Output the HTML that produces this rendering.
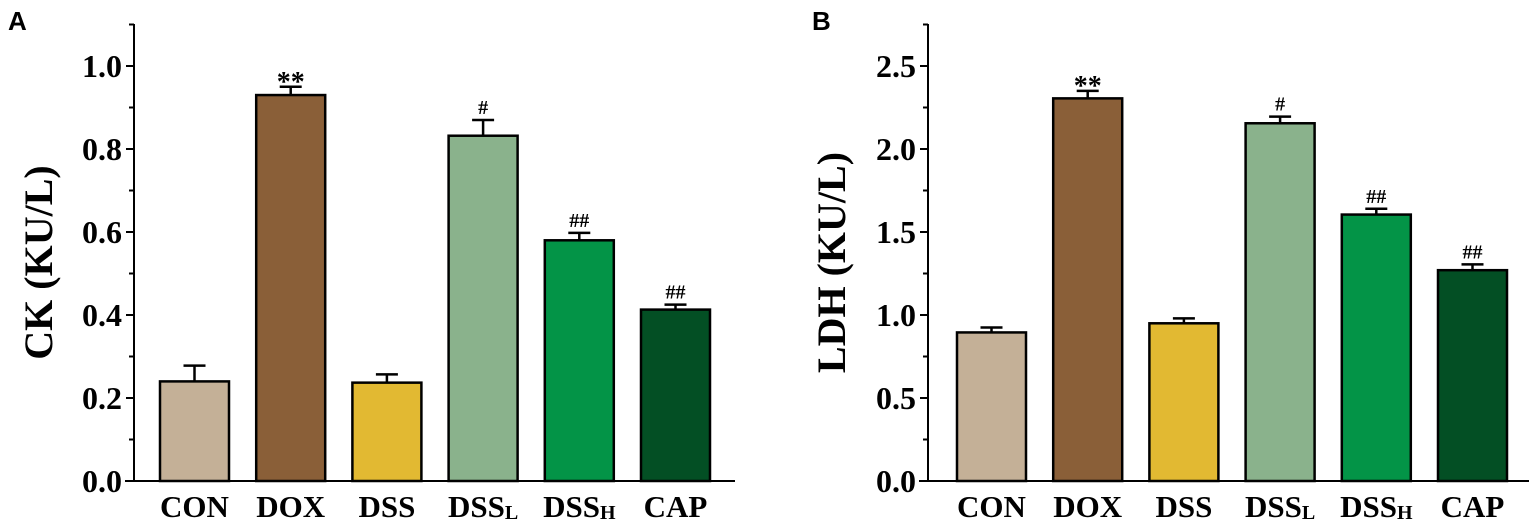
<!DOCTYPE html>
<html><head><meta charset="utf-8"><style>
html,body{margin:0;padding:0;background:#fff;width:1535px;height:524px;overflow:hidden}
</style></head><body>
<svg id="svg" width="1535" height="524" xmlns="http://www.w3.org/2000/svg" font-family="'Liberation Serif', serif" font-weight="bold"></svg>
<script>
const categories=["CON","DOX","DSS","DSSL","DSSH","CAP"];
const colors=["#c4b097","#8a5f38","#e2b932","#8ab28c","#039447","#034f24"];
const ckValues=[0.240,0.930,0.237,0.832,0.580,0.413];
const ckErrors=[0.038,0.020,0.020,0.038,0.018,0.012];
const ckMarks=["","**","","#","##","##"];
const ckTicks=[0.0,0.2,0.4,0.6,0.8,1.0];
const ldhValues=[0.895,2.305,0.950,2.155,1.605,1.270];
const ldhErrors=[0.030,0.045,0.030,0.040,0.035,0.035];
const ldhMarks=["","**","","#","##","##"];
const ldhTicks=[0.0,0.5,1.0,1.5,2.0,2.5];
const NS="http://www.w3.org/2000/svg";
const svg=document.getElementById('svg');
const SERIF="Liberation Serif, serif";
function mk(tag,attrs,parent){const e=document.createElementNS(NS,tag);for(const k in attrs)e.setAttribute(k,attrs[k]);(parent||svg).appendChild(e);return e;}
function panel(o){
  const g=mk('g',{});
  
  
  const base=481, top=24, ax=o.ax, pxPer=415/o.ymaxTick;
  const y=v=>base-v*pxPer;
  const x=i=>o.x0+i*96.2;
  const ya=mk('line',{x1:ax,y1:top,x2:ax,y2:base,stroke:'#000','stroke-width':2},g);
  
  
  const xa=mk('line',{x1:ax-9,y1:base,x2:ax+601,y2:base,stroke:'#000','stroke-width':2},g);
  
  
  const ts=o.ticks;
  for(let i=0;i<ts.length;i++){
    mk('line',{x1:ax-8,y1:y(ts[i]),x2:ax,y2:y(ts[i]),stroke:'#000','stroke-width':2},g);
    if(i<ts.length-1){const m=(ts[i]+ts[i+1])/2;mk('line',{x1:ax-5,y1:y(m),x2:ax,y2:y(m),stroke:'#000','stroke-width':2},g);}
    const t=mk('text',{x:ax-12,y:y(ts[i])+11,'text-anchor':'end','font-size':32,'font-family':SERIF,'font-weight':'bold'},g);
    t.textContent=ts[i].toFixed(1);
    
    
  }
  const mt=ts[ts.length-1]+(ts[1]-ts[0])/2;
  mk('line',{x1:ax-5,y1:y(mt),x2:ax,y2:y(mt),stroke:'#000','stroke-width':2},g);
  const yt=mk('text',{x:0,y:0,'text-anchor':'middle','font-size':40,'font-family':SERIF,'font-weight':'bold',transform:`translate(${o.titleX},${(top+base)/2+10}) rotate(-90)`},g);
  yt.textContent=o.title;
  
  
  const pl=mk('text',{x:o.labelX,y:30,'font-size':26,'font-family':'Liberation Sans, sans-serif','font-weight':'bold'},g);
  pl.textContent=o.letter;
  
  
  for(let i=0;i<categories.length;i++){
    const cx=x(i),w=69,v=o.values[i],e=o.errors[i];
    const eb=mk('path',{d:`M${cx},${y(v)} V${y(v+e)} M${cx-11},${y(v+e)} H${cx+11}`,stroke:'#000','stroke-width':2.5,fill:'none'},g);
    
    
    const r=mk('rect',{x:cx-w/2,y:y(v),width:w,height:base-y(v),fill:colors[i],stroke:'#000','stroke-width':2.5},g);
    
    
    if(o.marks[i]){
      const st=o.marks[i]==='**';
      const s=mk('text',{x:cx,y:y(v+e)-(st?-4:6),'text-anchor':'middle','font-size':st?28:20,'font-family':SERIF,'font-weight':'bold'},g);
      s.textContent=o.marks[i];
      
      
    }
    const lbl=mk('text',{x:cx,y:517,'text-anchor':'middle','font-size':31,'font-family':SERIF,'font-weight':'bold'},g);
    
    
    const c=categories[i];
    if(c==='DSSL'||c==='DSSH'){
      lbl.textContent='DSS';
      const sub=mk('tspan',{'font-size':20,dy:2},lbl);sub.textContent=c[3];
    } else lbl.textContent=c;
  }
}
panel({name:'ck-chart',ax:134,x0:194.5,ymaxTick:1.0,ticks:ckTicks,values:ckValues,errors:ckErrors,marks:ckMarks,title:'CK (KU/L)',titleX:52,letter:'A',labelX:8});
panel({name:'ldh-chart',ax:928,x0:991.5,ymaxTick:2.5,ticks:ldhTicks,values:ldhValues,errors:ldhErrors,marks:ldhMarks,title:'LDH (KU/L)',titleX:845,letter:'B',labelX:812});
</script>
</body></html>
